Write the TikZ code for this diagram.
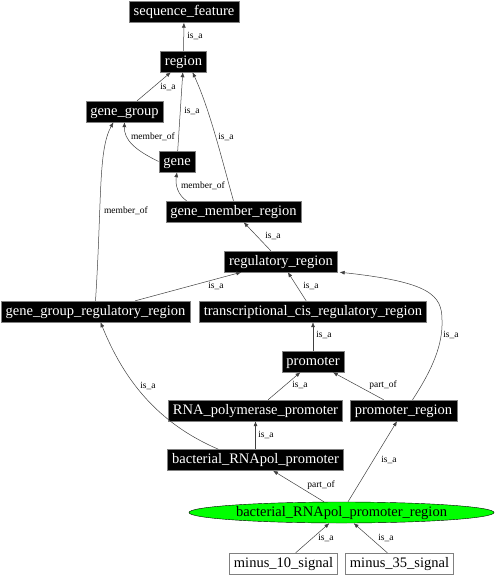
\documentclass[tikz,border=0pt]{standalone}
\usepackage{fontspec}
\setmainfont{Liberation Serif}
\usetikzlibrary{shapes.geometric}
\usetikzlibrary{calc}
\usetikzlibrary{arrows.meta}

\tikzset{
  term/.style={draw=gray, fill=black, text=white, font=\fontsize{14.5}{16}\selectfont,
    inner xsep=4.5pt, inner ysep=0pt, minimum height=21pt, text height=10pt, text depth=3pt},
  leaf/.style={term, fill=white, text=black},
  rel/.style={draw=black!75, line width=0.5pt, -{Latex[length=5pt,width=4pt]}},
  lbl/.style={font=\fontsize{9.5}{10}\selectfont, inner sep=0pt}
}

\begin{document}
\begin{tikzpicture}[x=1pt,y=-1pt]
        \useasboundingbox (0,0) rectangle (496,576);

        \node[term] (seqf) at (184,12) {sequence\_feature};
        \node[term] (region) at (183.5,61.5) {region};
        \node[term] (ggroup) at (124.5,111.5) {gene\_group};
        \node[term] (gene) at (177,161.5) {gene};
        \node[term] (gmr) at (233.5,211.5) {gene\_member\_region};
        \node[term] (regr) at (281,261.5) {regulatory\_region};
        \node[term] (ggrr) at (95.5,311.5) {gene\_group\_regulatory\_region};
        \node[term] (tcrr) at (313,311.5) {transcriptional\_cis\_regulatory\_region};
        \node[term] (prom) at (313,361.5) {promoter};
        \node[term] (rnapp) at (255.5,410.5) {RNA\_polymerase\_promoter};
        \node[term] (promr) at (403.5,410.5) {promoter\_region};
        \node[term] (brp) at (255.5,460) {bacterial\_RNApol\_promoter};
        \node[draw=black, fill=green, ellipse, minimum width=305pt, minimum height=21pt,
          inner xsep=-3pt, inner ysep=0pt, font=\fontsize{14.5}{16}\selectfont,
          text height=10pt, text depth=3pt] (brpr) at (341.5,512.5) {bacterial\_RNApol\_promoter\_region};
        \node[leaf] (m10) at (283.5,563.5) {minus\_10\_signal};
        \node[leaf] (m35) at (399.5,563.5) {minus\_35\_signal};

        \draw[rel] (region) -- (seqf);
        \draw[rel] (ggroup) -- (region);
        \draw[rel] (gene) -- (region);
        \draw[rel] (gene.west) .. controls (135,150) and (124,140) .. (ggroup.south);
        \draw[rel] (gmr.north) .. controls (222,160) and (210,110) .. ($(region.south)+(9,0)$);
        \draw[rel] ($(gmr.north west)+(21,0)$) .. controls (178,195) and (175,185) .. (gene.south);
        \draw[rel] (ggrr.north) .. controls (102,200) and (98,150) .. ($(ggroup.south)+(-11,0)$);
        \draw[rel] (regr) -- (gmr);
        \draw[rel] (ggrr) -- (regr);
        \draw[rel] (tcrr) -- (regr);
        \draw[rel] (prom) -- (tcrr);
        \draw[rel] ($(promr.north)+(9,0)$) .. controls (432,370) and (443,345) .. (442,320)
                .. controls (442,295) and (430,282) .. ($(regr.south east)+(2,0)$);
        \draw[rel] (rnapp) -- (prom);
        \draw[rel] (promr) -- (prom);
        \draw[rel] ($(brp.north)+(-37,0)$) .. controls (150,420) and (120,370) .. ($(ggrr.south)+(5,0)$);
        \draw[rel] (brp) -- (rnapp);
        \draw[rel] (brpr) -- (brp);
        \draw[rel] (brpr) -- (promr);
        \draw[rel] (m10) -- (brpr);
        \draw[rel] (m35) -- (brpr);

        % edge labels
        \node[lbl] (l1) at (195,36) {is\_a};
        \node[lbl] (l2) at (168,87) {is\_a};
        \node[lbl] (l3) at (192,111) {is\_a};
        \node[lbl] (l4) at (153,137) {member\_of};
        \node[lbl] (l5) at (226,137) {is\_a};
        \node[lbl] (l6) at (203,186) {member\_of};
        \node[lbl] (l7) at (126,211) {member\_of};
        \node[lbl] (l8) at (273,236) {is\_a};
        \node[lbl] (l9) at (216,286) {is\_a};
        \node[lbl] (l10) at (311,286) {is\_a};
        \node[lbl] (l11) at (324,335) {is\_a};
        \node[lbl] (l12) at (451,335) {is\_a};
        \node[lbl] (l13) at (300,385) {is\_a};
        \node[lbl] (l14) at (383,385) {part\_of};
        \node[lbl] (l15) at (148,386) {is\_a};
        \node[lbl] (l16) at (266,435) {is\_a};
        \node[lbl] (l17) at (389,460) {is\_a};
        \node[lbl] (l18) at (321,485) {part\_of};
        \node[lbl] (l19) at (326,538) {is\_a};
        \node[lbl] (l20) at (386,538) {is\_a};
\end{tikzpicture}
\end{document}
